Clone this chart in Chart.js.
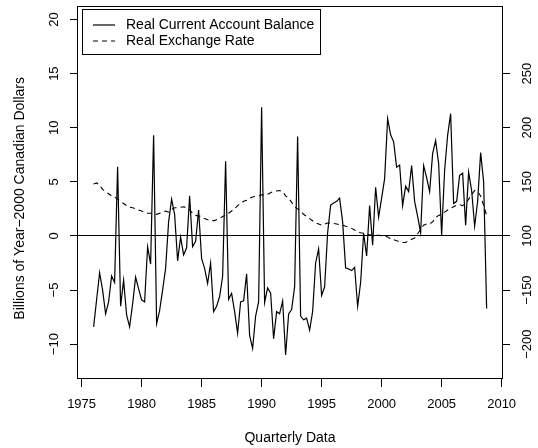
<!DOCTYPE html>
<html>
<head>
<meta charset="utf-8">
<script src="https://cdn.jsdelivr.net/npm/chart.js@4.4.1/dist/chart.umd.min.js"></script>
<style>
  html, body { margin: 0; padding: 0; background: #fff; }
  canvas { display: block; }
</style>
</head>
<body>
<canvas id="chart" width="538" height="448"></canvas>
<script>
// quarterly series, first quarter 1976Q1
const START_YEAR = 1976
const currentAccount = [
    -8.4, -5.9, -3.4, -5.0, -7.2, -6.1, -3.7, -4.3, 6.4, -6.5,
    -4.1, -7.3, -8.4, -6.3, -3.8, -4.9, -5.9, -6.1, -1.0, -2.6,
    9.3, -8.1, -6.9, -5.0, -3.0, 1.3, 3.4, 2.0, -2.3, -0.1,
    -1.75, -1.1, 3.7, -1.0, -0.5, 2.4, -2.1, -3.0, -4.4, -2.5,
    -7.0, -6.5, -5.6, -3.75, 6.9, -5.85, -5.3, -7.0, -9.0, -6.1,
    -6.0, -3.5, -9.2, -10.4, -7.4, -6.1, 11.9, -6.15, -4.8, -5.3,
    -9.5, -7.0, -7.2, -6.0, -11.0, -7.2, -6.8, -4.7, 9.2, -7.4,
    -7.75, -7.6, -8.7, -7.0, -2.5, -1.2, -5.5, -4.7, 0.3, 2.85,
    3.05, 3.2, 3.5, 1.3, -2.95, -3.05, -3.2, -2.9, -6.5, -4.3,
    0.25, -1.85, 2.8, -0.85, 4.5, 1.75, 3.5, 5.3, 10.85, 9.35,
    8.7, 6.35, 6.55, 2.8, 4.6, 4.1, 6.5, 3.2, 1.8, 0.3,
    6.5, 5.4, 4.1, 7.6, 8.8, 6.7, 0.1, 6.1, 9.3, 11.3,
    3.0, 3.2, 5.6, 5.8, 1.0, 5.9, 4.2, 0.9, 3.2, 7.7,
    5.0, -6.7
]
const exchangeRate = [
    148, 149, 147, 143, 141, 139, 137, 136, 134, 132,
    130, 128, 126.5, 126, 125, 124, 123, 122, 121, 121,
    121, 120, 121, 122, 123, 122, 124.5, 126, 126, 126.5,
    127, 126, 124, 121, 119, 118.5, 118, 116, 115, 115,
    114, 115, 116, 118, 119, 121, 123, 125, 128, 130,
    132, 133, 135, 136, 136.5, 137, 138, 138, 138.5, 140,
    141, 141.5, 142, 141, 137, 135, 131, 127, 125, 123,
    120, 118, 116, 114, 112, 111, 110, 111, 112, 112,
    111.5, 111, 110.5, 110, 109, 108.5, 107, 105.5, 104, 103,
    102.5, 102, 101, 100.5, 100.5, 100.5, 100.3, 100, 99, 97.5,
    96.5, 95.5, 95, 94, 94, 95.5, 97, 98, 102, 106,
    110, 111, 111, 113, 117, 119, 120, 122, 124, 125.5,
    127, 128.5, 129, 128, 130, 134, 138, 142, 141, 137,
    128, 119
]
const seriesNames = ['Real Current Account Balance', 'Real Exchange Rate']
const xTicks = [1975, 1980, 1985, 1990, 1995, 2000, 2005, 2010]
const leftTicks = [-10, -5, 0, 5, 10, 15, 20]
const rightTickValues = [0, 50, 100, 150, 200, 250]
const rightTickLabels = ['\u2212200', '\u2212150', '100', '150', '200', '250']

const Y_MIN = -13.22
const Y_MAX = 21.25
const FONT = '"Liberation Sans", Arial, sans-serif'

Chart.defaults.font.family = FONT
Chart.defaults.font.size = 13
Chart.defaults.color = '#000'

const toPoints = (values) => values.map((v, i) => ({ x: START_YEAR + i / 4, y: v }))
const minus = (v) => String(v).replace('-', '\u2212')
const setTicks = (list) => (scale) => { scale.ticks = list.map(v => ({ value: v })) }
const fixWidth = (w) => (s) => { s.width = w; s.paddingTop = 0; s.paddingBottom = 0 }

const boxPlugin = {
    id: 'rbox',
    afterDraw(chart) {
        const { ctx, chartArea: a } = chart
        ctx.save()
        ctx.strokeStyle = '#000'
        ctx.lineWidth = 1
        ctx.strokeRect(Math.round(a.left) - 0.5, Math.round(a.top) + 0.5,
            Math.round(a.right - a.left) + 1, Math.round(a.bottom - a.top) - 1)

        // legend box, R style
        const lx = 82, ly = 9.5, lw = 238, lh = 45
        ctx.fillStyle = '#fff'
        ctx.fillRect(lx, ly, lw, lh)
        ctx.strokeRect(lx + 0.5, ly, lw, lh)
        chart.data.datasets.forEach((ds, i) => {
            const yy = 25 + i * 16
            ctx.beginPath()
            ctx.setLineDash(ds.borderDash || [])
            ctx.lineWidth = ds.borderWidth
            ctx.moveTo(93, yy)
            ctx.lineTo(115, yy)
            ctx.stroke()
            ctx.setLineDash([])
            ctx.fillStyle = '#000'
            ctx.font = '14px ' + FONT
            ctx.textBaseline = 'middle'
            ctx.textAlign = 'left'
            ctx.fillText(ds.label, 126, yy)
        })
        ctx.restore()
    }
}

const config = {
    type: 'line',
    data: {
        datasets: [
            {
                label: seriesNames[0],
                data: toPoints(currentAccount),
                borderColor: '#000',
                borderWidth: 1.2,
                pointRadius: 0,
                tension: 0,
                fill: false,
                yAxisID: 'y'
            },
            {
                label: seriesNames[1],
                data: toPoints(exchangeRate),
                borderColor: '#000',
                borderWidth: 1.1,
                borderDash: [5, 4],
                pointRadius: 0,
                tension: 0,
                fill: false,
                yAxisID: 'y2'
            }
        ]
    },
    options: {
        responsive: false,
        animation: false,
        events: [],
        layout: { padding: { top: 6, left: 0, right: 0, bottom: 0 } },
        plugins: {
            legend: { display: false },
            tooltip: { enabled: false }
        },
        scales: {
            x: {
                type: 'linear',
                min: 1974.7,
                max: 2010.03,
                afterBuildTicks: setTicks(xTicks),
                afterFit: (s) => { s.height = 69; s.paddingLeft = 0; s.paddingRight = 0 },
                ticks: {
                    padding: 10,
                    maxRotation: 0,
                    callback: (v) => String(v)
                },
                grid: {
                    drawOnChartArea: false,
                    tickLength: 8,
                    tickColor: '#000'
                },
                border: { display: false },
                title: {
                    display: true,
                    text: 'Quarterly Data',
                    font: { size: 14 },
                    padding: { top: 0, bottom: 1 }
                }
            },
            y: {
                type: 'linear',
                position: 'left',
                min: Y_MIN,
                max: Y_MAX,
                afterBuildTicks: setTicks(leftTicks),
                afterFit: fixWidth(78),
                ticks: {
                    minRotation: 90,
                    maxRotation: 90,
                    crossAlign: 'center',
                    padding: 5,
                    callback: minus
                },
                grid: {
                    color: (c) => (c.tick && c.tick.value === 0) ? '#000' : 'rgba(0,0,0,0)',
                    tickColor: '#000',
                    tickLength: 8,
                    lineWidth: 1
                },
                border: { display: false },
                title: {
                    display: true,
                    text: 'Billions of Year\u22122000 Canadian Dollars   ',
                    font: { size: 14 },
                    padding: { top: 12, bottom: 0 }
                }
            },
            y2: {
                type: 'linear',
                position: 'right',
                min: 100 + 10 * Y_MIN,
                max: 100 + 10 * Y_MAX,
                afterBuildTicks: setTicks(rightTickValues),
                afterFit: fixWidth(36),
                ticks: {
                    minRotation: 90,
                    maxRotation: 90,
                    crossAlign: 'center',
                    padding: 3,
                    callback: (v) => rightTickLabels[rightTickValues.indexOf(v)]
                },
                grid: {
                    drawOnChartArea: false,
                    tickColor: '#000',
                    tickLength: 8
                },
                border: { display: false }
            }
        }
    },
    plugins: [boxPlugin]
}

new Chart(document.getElementById('chart'), config)
</script>
</body>
</html>
